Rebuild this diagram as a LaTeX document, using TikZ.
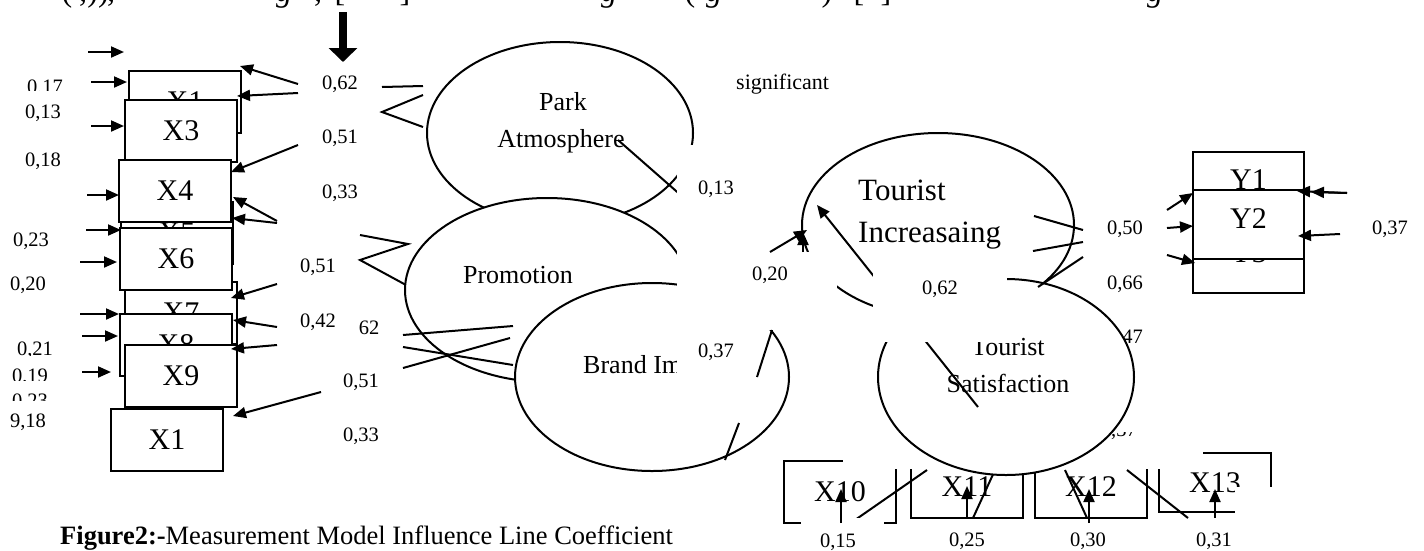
\documentclass[tikz,border=0pt]{standalone}
\usepackage{fontspec}
\setmainfont{Liberation Serif}
\usetikzlibrary{arrows.meta,shapes.geometric}
\tikzset{
  ln/.style={line width=2pt},
  arr/.style={line width=2pt,-{Triangle[length=13pt,width=11pt]}},
  xbox/.style={draw,line width=1.6pt,fill=white,minimum width=112pt,minimum height=62pt,inner sep=0pt,font=\fontsize{30}{32}\selectfont},
  xt/.style={inner sep=0pt,font=\fontsize{30}{32}\selectfont},
  lab/.style={inner sep=0pt,font=\fontsize{20.5}{22}\selectfont},
  lat/.style={ellipse,draw,line width=2pt,fill=white,inner sep=0pt},
  et/.style={inner sep=0pt,anchor=base,font=\fontsize{26}{30}\selectfont},
  tt/.style={inner sep=0pt,anchor=base west,font=\fontsize{31}{36}\selectfont},
  frag/.style={inner sep=0pt,anchor=base,font=\fontsize{32}{34}\selectfont},
  wbox/.style={fill=white,draw=none},
}
\begin{document}
\begin{tikzpicture}[x=1pt,y=-1pt]
\useasboundingbox (0,0) rectangle (1424,550);
\clip (0,0) rectangle (1424,550);
\fill[white] (0,0) rectangle (1424,550);

% --- clipped line of text at the very top
\node[frag] (t1) at (67,1.5) {(};
\node[frag] (t2) at (83,1.5) {,};
\node[frag] (t3) at (98,1.5) {))};
\node[frag] (t4) at (111,1.5) {,};
\node[frag] (t5) at (284,1.5) {\itshape g};
\node[frag] (t6) at (318,1.5) {,};
\node[frag] (t7) at (340,1.5) {[};
\node[frag] (t8) at (405,1.5) {]};
\node[frag] (t9) at (609,1.5) {\itshape g};
\node[frag] (t10) at (690,1.5) {(};
\node[frag] (t11) at (714,1.5) {\itshape g};
\node[frag] (t12) at (827,1.5) {)};
\node[frag] (t13) at (859,1.5) {[};
\node[frag] (t14) at (886,1.5) {]};
\node[frag] (t15) at (1155,1.5) {\itshape g};

% --- thick down arrow
\coordinate (ta1) at (343,12);
\coordinate (ta2) at (343,62);
\draw[line width=8pt,-{Triangle[length=14pt,width=28pt]}] (ta1) -- (ta2);

% --- error arrows on the left
\coordinate (a1s) at (88,52);   \coordinate (a1e) at (124,52);
\coordinate (a2s) at (91,82);   \coordinate (a2e) at (127,82);
\coordinate (a3s) at (91,126);  \coordinate (a3e) at (124,126);
\coordinate (a4s) at (87,195);  \coordinate (a4e) at (119,195);
\coordinate (a5s) at (86,230);  \coordinate (a5e) at (121,230);
\coordinate (a6s) at (80,262);  \coordinate (a6e) at (117,262);
\coordinate (a7s) at (80,314);  \coordinate (a7e) at (119,314);
\coordinate (a8s) at (82,336);  \coordinate (a8e) at (118,336);
\coordinate (a9s) at (82,372);  \coordinate (a9e) at (111,372);
\foreach \i in {1,...,9} {\draw[arr] (a\i s) -- (a\i e);}

% --- left indicator boxes
\node[xbox] (x1a) at (185,102) {X1};
\node[xbox] (x3) at (181,131) {X3};
\node[xbox] (x5) at (177,233) {X5};
\node[xbox] (x4) at (175,191) {X4};
\node[xbox] (x7) at (181,313) {X7};
\node[xbox] (x6) at (176,259) {X6};
\node[xbox] (x8) at (176,345) {X8};
\node[xbox] (x9) at (181,376) {X9};
\node[xbox] (x1b) at (167,440) {X1};

% --- loading arrows into the left boxes
\coordinate (b1s) at (298,84);  \coordinate (b1e) at (240,66);
\coordinate (b2s) at (298,93);  \coordinate (b2e) at (237,96);
\coordinate (b3s) at (298,145); \coordinate (b3e) at (231,172);
\coordinate (b4s) at (277,221); \coordinate (b4e) at (233,197);
\coordinate (b5s) at (277,223); \coordinate (b5e) at (232,218);
\coordinate (b6s) at (277,284); \coordinate (b6e) at (231,298);
\coordinate (b7s) at (277,327); \coordinate (b7e) at (233,320);
\coordinate (b8s) at (277,345); \coordinate (b8e) at (231,349);
\coordinate (b9s) at (321,392); \coordinate (b9e) at (233,416);
\foreach \i in {1,...,9} {\draw[arr] (b\i s) -- (b\i e);}

% --- left labels
\begin{scope}\clip (0,70) rectangle (80,90); \node[lab] (l017) at (45,88) {0,17}; \end{scope}
\node[lab] (l013) at (43,113) {0,13};
\node[lab] (l018) at (43,161) {0,18};
\node[lab] (l023) at (31,241) {0,23};
\node[lab] (l020) at (28,285) {0,20};
\begin{scope}\clip (0,335) rectangle (80,355); \node[lab] (l021) at (35,350) {0,21}; \end{scope}
\begin{scope}\clip (0,365) rectangle (80,380); \node[lab] (l019) at (30,377) {0,19}; \end{scope}
\begin{scope}\clip (0,390) rectangle (80,400); \node[lab] (l023b) at (30,402) {0,23}; \end{scope}
\node[lab] (l918) at (28,422) {9,18};

\node[lab] (m062) at (340,84) {0,62};
\node[lab] (m051) at (340,138) {0,51};
\node[lab] (m033) at (340,193) {0,33};
\node[lab] (m051b) at (318,267) {0,51};
\node[lab] (m042) at (318,322) {0,42};
\node[lab] (m62) at (369,328) {62};
\node[lab] (m051c) at (361,382) {0,51};
\node[lab] (m033b) at (361,436) {0,33};

% --- Park Atmosphere
\coordinate (p1) at (382,87); \coordinate (p2) at (423,86);
\coordinate (p3) at (423,95); \coordinate (p4) at (382,112); \coordinate (p5) at (423,127);
\draw[ln] (p1) -- (p2);
\draw[ln] (p3) -- (p4) -- (p5);
\node[lat,minimum width=266pt,minimum height=182pt] (park) at (560,133) {};
\node[et] (parkt1) at (563,110) {Park};
\node[et] (parkt2) at (561,147) {Atmosphere};
\coordinate (pa1) at (618,140); \coordinate (pa2) at (700,212);
\draw[ln] (pa1) -- (pa2);

% --- Promotion
\coordinate (q1) at (360,235); \coordinate (q2) at (408,244);
\coordinate (q3) at (360,260); \coordinate (q4) at (406,285);
\draw[ln] (q1) -- (q2) -- (q3) -- (q4);
\node[lat,minimum width=284pt,minimum height=184pt] (promo) at (547,290) {};
\node[et] (promot) at (518,283) {Promotion};

% --- lines to Brand Image
\coordinate (r1s) at (403,335); \coordinate (r1e) at (513,326);
\coordinate (r2s) at (403,347); \coordinate (r2e) at (513,365);
\coordinate (r3s) at (403,368); \coordinate (r3e) at (510,338);
\foreach \i in {1,2,3} {\draw[ln] (r\i s) -- (r\i e);}

% --- Brand Image
\node[lat,minimum width=274pt,minimum height=188pt] (brand) at (652,377) {};
\begin{scope}\clip (560,340) rectangle (677,390);
\node[et,anchor=base west] (brandt) at (583,373) {Brand Image};
\end{scope}
\coordinate (bl1) at (725,460); \coordinate (bl2) at (739,423);
\draw[ln] (bl1) -- (bl2);

% --- bottom indicator boxes
\node[xbox] (x10) at (840,492) {X10};
\node[xbox] (x11) at (967,487) {X11};
\node[xbox] (x12) at (1091,487) {X12};
\node[xbox,minimum height=59pt] (x13) at (1215,482.5) {X13};
\coordinate (L1s) at (855,520);  \coordinate (L1e) at (927,470);
\coordinate (L2s) at (973,518);  \coordinate (L2e) at (995,470);
\coordinate (L3s) at (1087,518); \coordinate (L3e) at (1065,470);
\coordinate (L4s) at (1188,518); \coordinate (L4e) at (1127,470);
\foreach \i in {1,2,3,4} {\draw[ln] (L\i s) -- (L\i e);}
\fill[wbox] (843,440) rectangle (1203,469);
\fill[wbox] (801,518) rectangle (884,528);
\fill[wbox] (1235,487) rectangle (1280,520);
\coordinate (f1s) at (841,523);  \coordinate (f1e) at (841,489);
\coordinate (f2s) at (967,518);  \coordinate (f2e) at (967,486);
\coordinate (f3s) at (1089,523); \coordinate (f3e) at (1089,489);
\coordinate (f4s) at (1215,518); \coordinate (f4e) at (1215,489);
\foreach \i in {1,2,3,4} {\draw[arr] (f\i s) -- (f\i e);}
\node[lab] (n015) at (838,542) {0,15};
\node[lab] (n025) at (967,541) {0,25};
\node[lab] (n030) at (1088,541) {0,30};
\node[lab] (n031) at (1214,541) {0,31};

% --- Tourist Increasaing
\node[lat,minimum width=272pt,minimum height=184pt] (tinc) at (938,225) {};
\node[tt] (tinct1) at (858,200) {Tourist};
\node[tt] (tinct2) at (858,242) {Increasaing};

% labels partly hidden by Tourist Satisfaction
\node[lab,anchor=east] (n047) at (1143,338) {0,47};
\begin{scope}\clip (1090,432) rectangle (1150,445); \node[lab,anchor=east] (n037b) at (1137,431) {0,37}; \end{scope}

% --- Tourist Satisfaction
\node[lat,minimum width=256pt,minimum height=196pt] (tsat) at (1006,377) {};
\node[et] (tsatt1) at (1008,355) {Tourist};
\node[et] (tsatt2) at (1008,392) {Satisfaction};
\coordinate (sa1) at (978,407); \coordinate (sa2) at (817,205);
\draw[arr] (sa1) -- (sa2);

% --- lines from Tourist Increasaing to Y
\coordinate (d1s) at (1034,216); \coordinate (d1e) at (1083,230);
\coordinate (d2s) at (1033,251); \coordinate (d2e) at (1083,242);
\coordinate (d3s) at (1038,287); \coordinate (d3e) at (1083,257);
\foreach \i in {1,2,3} {\draw[ln] (d\i s) -- (d\i e);}

% --- white text boxes hiding parts
\fill[wbox] (677,145) rectangle (757,378);
\fill[wbox] (757,252) rectangle (837,330);
\fill[wbox] (873,270) rectangle (1007,342);

\coordinate (bl3) at (757,377); \coordinate (bl4) at (772,330);
\draw[ln] (bl3) -- (bl4);

\node[lab] (n013) at (716,189) {0,13};
\node[lab] (n020) at (770,275) {0,20};
\node[lab] (n037) at (716,352) {0,37};
\node[lab] (n062) at (940,289) {0,62};
\node[inner sep=0pt,anchor=west,font=\fontsize{22}{24}\selectfont] (sig) at (736,84) {significant};

\coordinate (c1s) at (770,252); \coordinate (c1e) at (807,230);
\coordinate (c2s) at (803,252); \coordinate (c2e) at (803,232);
\draw[arr] (c1s) -- (c1e);
\draw[arr] (c2s) -- (c2e);

% --- Y boxes
\node[xbox,minimum width=111pt] (y1) at (1248.5,183) {};
\node[xt] (y1t) at (1248.5,180) {Y1};
\node[xbox,minimum width=111pt] (y3) at (1248.5,262) {};
\node[xt] (y3t) at (1248.5,253) {Y3};
\node[xbox,minimum width=111pt,minimum height=69pt] (y2) at (1248.5,224.5) {};
\node[xt] (y2t) at (1248.5,219) {Y2};

\coordinate (e1s) at (1167,210); \coordinate (e1e) at (1193,193);
\coordinate (e2s) at (1167,228); \coordinate (e2e) at (1193,226);
\coordinate (e3s) at (1167,255); \coordinate (e3e) at (1195,263);
\coordinate (e4s) at (1347,193); \coordinate (e4e) at (1297,191);
\coordinate (e5e) at (1311,192);
\coordinate (e6s) at (1340,234); \coordinate (e6e) at (1298,236);
\draw[arr] (e1s) -- (e1e);
\draw[arr] (e2s) -- (e2e);
\draw[arr] (e3s) -- (e3e);
\draw[arr] (e4s) -- (e4e);
\draw[arr] (e4s) -- (e5e);
\draw[arr] (e6s) -- (e6e);

\node[lab] (n050) at (1125,229) {0,50};
\node[lab] (n066) at (1125,284) {0,66};
\node[lab] (n037r) at (1390,229) {0,37};

% --- caption
\node[inner sep=0pt,anchor=base west,font=\fontsize{26.5}{30}\selectfont] (cap) at (60,544) {\textbf{Figure2:-}Measurement Model Influence Line Coefficient};
\end{tikzpicture}
\end{document}
